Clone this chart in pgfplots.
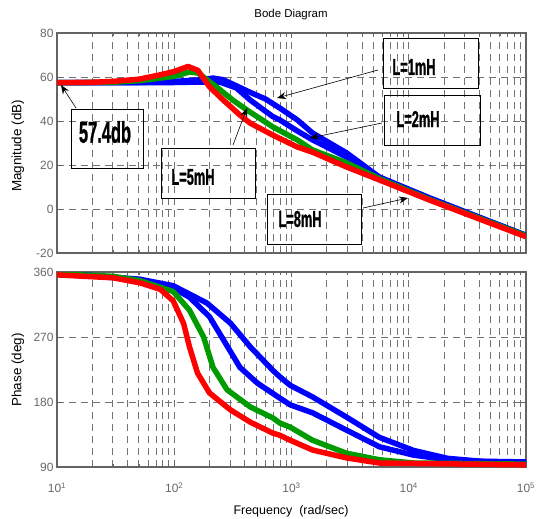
\documentclass[border=0pt]{standalone}
\usepackage{fontspec}
\setmainfont{Liberation Sans}
\newfontfamily\annfont{Liberation Sans}[UprightFont=* Bold, FakeBold=1.2]
\usepackage{graphicx}
\usepackage{pgfplots}
\pgfplotsset{compat=1.18}
\usetikzlibrary{arrows.meta}

\definecolor{mgreen}{RGB}{0,155,0}
\definecolor{gridgray}{RGB}{115,115,115}
\definecolor{framegray}{RGB}{100,100,100}
\definecolor{labgray}{RGB}{105,105,105}

\pgfplotsset{
  every axis plot/.append style={line width=5.5bp, line join=round},
}

\begin{document}
\begin{tikzpicture}
\useasboundingbox (0bp,0bp) rectangle (541bp,-519bp);

% magnitude
\begin{axis}[at={(57bp,-253bp)}, anchor=south west,
  scale only axis, width=469bp, height=220bp,
  xmode=log, xmin=10, xmax=100000,
  xtick={10,100,1000,10000,100000},
  minor xtick={20,30,40,50,60,70,80,90,200,300,400,500,600,700,800,900,
    2000,3000,4000,5000,6000,7000,8000,9000,20000,30000,40000,50000,60000,70000,80000,90000},
  axis line style={framegray, line width=1.3bp},
  tick style={framegray, line width=0.8bp},
  major tick length=5bp, minor tick length=3bp,
  tick align=inside,
  grid=both,
  major grid style={gridgray, line width=1bp, dash pattern=on 7bp off 5bp},
  minor grid style={gridgray, line width=1bp, dash pattern=on 7bp off 5bp},
  ticklabel style={font=\fontsize{12}{12}\selectfont, text=labgray},
  ymin=-20, ymax=80, ytick={-20,0,20,40,60,80},
  yticklabels={-20,0,20,40,60,80}, xticklabels={}]
\addplot[blue, no marks] coordinates {
 (10,57.4) (30,57.4) (50,57.5) (100,58) (155,58.6) (214,59.5) (260,58.8) (300,57.3)
 (445,53) (600,50) (794,45.9) (1120,40.5) (1514,34.5) (2951,25.5) (5623,14.5)
 (15136,5) (100000,-12)};
\addplot[blue, no marks] coordinates {
 (10,57.4) (100,57.5) (160,57.7) (245,57.7) (339,55) (445,49.5) (693,42) (794,40.5)
 (1120,35.5) (1514,31.4) (2951,23.6) (5623,14.3) (15136,4.8) (100000,-12)};
\addplot[mgreen, no marks] coordinates {
 (10,57.4) (30,57.6) (50,58.3) (100,60.3) (135,62.3) (160,61.8) (229,55.5) (316,49.5)
 (417,45) (693,37.3) (1120,31.4) (1514,26.8) (2951,21) (5623,13.8) (15136,4.3)
 (100000,-12.2)};
\addplot[red, no marks] coordinates {
 (10,57.4) (20,57.6) (30,58) (50,59) (76,61) (100,62.5) (131,64.8) (159,63)
 (200,55.5) (262,49.5) (363,42.7) (445,39) (693,33.6) (1120,28.2) (1514,25.8)
 (2951,19.1) (5623,13.2) (15136,4) (100000,-12.6)};
\end{axis}

% phase
\begin{axis}[at={(57bp,-467bp)}, anchor=south west,
  scale only axis, width=469bp, height=195bp,
  xmode=log, xmin=10, xmax=100000,
  xtick={10,100,1000,10000,100000},
  minor xtick={20,30,40,50,60,70,80,90,200,300,400,500,600,700,800,900,
    2000,3000,4000,5000,6000,7000,8000,9000,20000,30000,40000,50000,60000,70000,80000,90000},
  axis line style={framegray, line width=1.3bp},
  tick style={framegray, line width=0.8bp},
  major tick length=5bp, minor tick length=3bp,
  tick align=inside,
  grid=both,
  major grid style={gridgray, line width=1bp, dash pattern=on 7bp off 5bp},
  minor grid style={gridgray, line width=1bp, dash pattern=on 7bp off 5bp},
  ticklabel style={font=\fontsize{12}{12}\selectfont, text=labgray},
  ymin=90, ymax=360, ytick={90,180,270,360},
  yticklabels={90,180,270,360},
  xticklabels={10\textsuperscript{1},10\textsuperscript{2},10\textsuperscript{3},10\textsuperscript{4},10\textsuperscript{5}},
  xticklabel style={yshift=-12bp}]
\addplot[blue, no marks] coordinates {
 (10,359) (51,350) (98,341) (190,317) (302,289) (447,256) (692,224) (794,215)
 (977,203) (1514,187) (2951,159) (5623,131) (10965,113) (21380,102) (40738,98)
 (100000,97)};
\addplot[blue, no marks] coordinates {
 (10,359) (51,349) (98,338) (135,325) (200,298) (263,266) (363,228) (513,206)
 (794,185.5) (977,176) (1514,165) (2951,141) (5623,118) (10965,106.5) (21380,100)
 (100000,95)};
\addplot[mgreen, no marks] coordinates {
 (10,357.5) (30,354) (51,348) (98,333) (135,307) (178,270) (214,228) (282,197)
 (447,173) (692,158) (794,151) (977,145) (1514,127) (2951,109) (5623,100)
 (11000,95.5) (100000,94)};
\addplot[red, no marks] coordinates {
 (10,356) (30,352) (51,345) (76,336) (98,320) (120,289) (135,256) (158,220)
 (200,192.5) (302,169) (447,152) (692,137) (794,134) (977,127) (1514,113.5)
 (2951,102.6) (5623,95.5) (100000,93)};
\end{axis}

% titles and labels
\node at (291bp,-15bp) {\fontsize{11.5}{11.5}\selectfont Bode Diagram};
\node[rotate=90] at (18bp,-146bp) {\fontsize{13.5}{13.5}\selectfont Magnitude (dB)};
\node[rotate=90] at (18bp,-370bp) {\fontsize{13.5}{13.5}\selectfont Phase (deg)};
\node at (291bp,-511bp) {\fontsize{12.5}{12.5}\selectfont Frequency\ \ (rad/sec)};

% annotations
\begin{scope}[line width=0.8pt]
\draw (71bp,-109bp) rectangle (143bp,-168bp);
\draw (161bp,-148bp) rectangle (255bp,-198bp);
\draw (383bp,-38bp) rectangle (478bp,-88bp);
\draw (384bp,-95bp) rectangle (480bp,-145bp);
\draw (267bp,-194bp) rectangle (361bp,-244bp);
\end{scope}
\node at (105bp,-132bp) {\scalebox{0.55}[1]{\fontsize{30}{30}\selectfont\annfont 57.4db}};
\node at (193bp,-177bp) {\scalebox{0.56}[1]{\fontsize{23}{23}\selectfont\annfont L=5mH}};
\node at (414bp,-67bp) {\scalebox{0.56}[1]{\fontsize{23}{23}\selectfont\annfont L=1mH}};
\node at (418bp,-119bp) {\scalebox{0.56}[1]{\fontsize{23}{23}\selectfont\annfont L=2mH}};
\node at (300bp,-219bp) {\scalebox{0.56}[1]{\fontsize{23}{23}\selectfont\annfont L=8mH}};
\begin{scope}[line width=0.6pt, -{Stealth[length=9bp,width=7bp]}]
\draw (76bp,-108bp) -- (61bp,-85bp);
\draw (378bp,-70bp) -- (277bp,-98bp);
\draw (382bp,-123bp) -- (310bp,-138bp);
\draw (363bp,-208bp) -- (408bp,-198bp);
\draw (233bp,-145bp) -- (247bp,-108bp);
\end{scope}
\end{tikzpicture}
\end{document}
